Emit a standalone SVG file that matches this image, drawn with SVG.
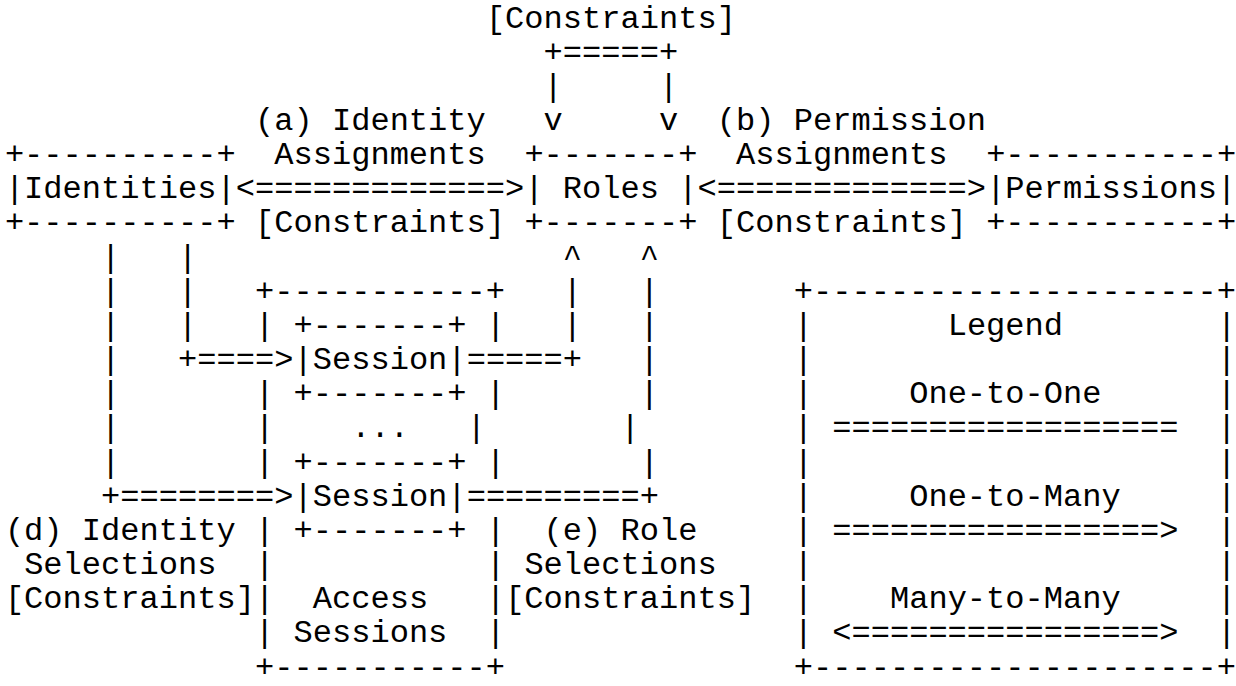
<svg xmlns="http://www.w3.org/2000/svg" width="1236" height="686" viewBox="0 0 1236 686" xml:space="preserve">
<style>
text { font-family: "Liberation Mono", "Courier New", monospace; font-size: 32.06px; fill: #000; white-space: pre; }
</style>
<rect width="1236" height="686" fill="#fff"/>
<g id="connectors">
  <text x="543.62" y="61.66">+=====+</text>
  <text x="543.62" y="95.82">|</text><text x="659.06" y="95.82">|</text>
  <text x="543.62" y="129.98">v</text><text x="659.06" y="129.98">v</text>
  <text x="235.78" y="198.3">&lt;=============&gt;</text>
  <text x="697.54" y="198.3">&lt;=============&gt;</text>
  <text x="101.1" y="266.62">|</text><text x="178.06" y="266.62">|</text>
  <text x="101.1" y="300.78">|</text><text x="178.06" y="300.78">|</text>
  <text x="101.1" y="334.94">|</text><text x="178.06" y="334.94">|</text>
  <text x="101.1" y="369.1">|</text><text x="178.06" y="369.1">+====&gt;</text>
  <text x="101.1" y="403.26">|</text>
  <text x="101.1" y="437.42">|</text>
  <text x="101.1" y="471.58">|</text>
  <text x="101.1" y="505.74">+========&gt;</text>
  <text x="562.86" y="266.62">^</text><text x="639.82" y="266.62">^</text>
  <text x="562.86" y="300.78">|</text><text x="639.82" y="300.78">|</text>
  <text x="562.86" y="334.94">|</text><text x="639.82" y="334.94">|</text>
  <text x="466.66" y="369.1">=====+</text><text x="639.82" y="369.1">|</text>
  <text x="639.82" y="403.26">|</text>
  <text x="620.58" y="437.42">|</text>
  <text x="639.82" y="471.58">|</text>
  <text x="466.66" y="505.74">=========+</text>
</g>
<g id="labels">
  <text x="485.9" y="27.5">[Constraints]</text>
  <text x="255.02" y="129.98">(a) Identity</text>
  <text x="274.26" y="164.14">Assignments</text>
  <text x="255.02" y="232.46">[Constraints]</text>
  <text x="716.78" y="129.98">(b) Permission</text>
  <text x="736.02" y="164.14">Assignments</text>
  <text x="716.78" y="232.46">[Constraints]</text>
  <text x="4.9" y="539.9">(d) Identity</text>
  <text x="24.14" y="574.06">Selections</text>
  <text x="4.9" y="608.22">[Constraints]</text>
  <text x="543.62" y="539.9">(e) Role</text>
  <text x="524.38" y="574.06">Selections</text>
  <text x="505.14" y="608.22">[Constraints]</text>
</g>
<g id="identities">
  <text x="4.9" y="164.14">+----------+</text>
  <text x="4.9" y="198.3">|Identities|</text>
  <text x="4.9" y="232.46">+----------+</text>
</g>
<g id="roles">
  <text x="524.38" y="164.14">+-------+</text>
  <text x="524.38" y="198.3">| Roles |</text>
  <text x="524.38" y="232.46">+-------+</text>
</g>
<g id="permissions">
  <text x="986.14" y="164.14">+-----------+</text>
  <text x="986.14" y="198.3">|Permissions|</text>
  <text x="986.14" y="232.46">+-----------+</text>
</g>
<g id="access-sessions">
  <text x="255.02" y="300.78">+-----------+</text>
  <text x="255.02" y="334.94">|</text><text x="485.9" y="334.94">|</text>
  <text x="255.02" y="403.26">|</text><text x="485.9" y="403.26">|</text>
  <text x="255.02" y="437.42">|</text><text x="351.22" y="437.42">...</text><text x="466.66" y="437.42">|</text>
  <text x="255.02" y="471.58">|</text><text x="485.9" y="471.58">|</text>
  <text x="255.02" y="539.9">|</text><text x="485.9" y="539.9">|</text>
  <text x="255.02" y="574.06">|</text><text x="485.9" y="574.06">|</text>
  <text x="255.02" y="608.22">|</text><text x="312.74" y="608.22">Access</text><text x="485.9" y="608.22">|</text>
  <text x="255.02" y="642.38">|</text><text x="293.5" y="642.38">Sessions</text><text x="485.9" y="642.38">|</text>
  <text x="255.02" y="676.54">+-----------+</text>
</g>
<g id="session-1">
  <text x="293.5" y="334.94">+-------+</text>
  <text x="293.5" y="369.1">|Session|</text>
  <text x="293.5" y="403.26">+-------+</text>
</g>
<g id="session-2">
  <text x="293.5" y="471.58">+-------+</text>
  <text x="293.5" y="505.74">|Session|</text>
  <text x="293.5" y="539.9">+-------+</text>
</g>
<g id="legend">
  <text x="793.74" y="300.78">+---------------------+</text>
  <text x="793.74" y="334.94">|</text><text x="947.66" y="334.94">Legend</text><text x="1217.02" y="334.94">|</text>
  <text x="793.74" y="369.1">|</text><text x="1217.02" y="369.1">|</text>
  <text x="793.74" y="403.26">|</text><text x="909.18" y="403.26">One-to-One</text><text x="1217.02" y="403.26">|</text>
  <text x="793.74" y="437.42">|</text><text x="832.22" y="437.42">==================</text><text x="1217.02" y="437.42">|</text>
  <text x="793.74" y="471.58">|</text><text x="1217.02" y="471.58">|</text>
  <text x="793.74" y="505.74">|</text><text x="909.18" y="505.74">One-to-Many</text><text x="1217.02" y="505.74">|</text>
  <text x="793.74" y="539.9">|</text><text x="832.22" y="539.9">=================&gt;</text><text x="1217.02" y="539.9">|</text>
  <text x="793.74" y="574.06">|</text><text x="1217.02" y="574.06">|</text>
  <text x="793.74" y="608.22">|</text><text x="889.94" y="608.22">Many-to-Many</text><text x="1217.02" y="608.22">|</text>
  <text x="793.74" y="642.38">|</text><text x="832.22" y="642.38">&lt;================&gt;</text><text x="1217.02" y="642.38">|</text>
  <text x="793.74" y="676.54">+---------------------+</text>
</g>
</svg>
